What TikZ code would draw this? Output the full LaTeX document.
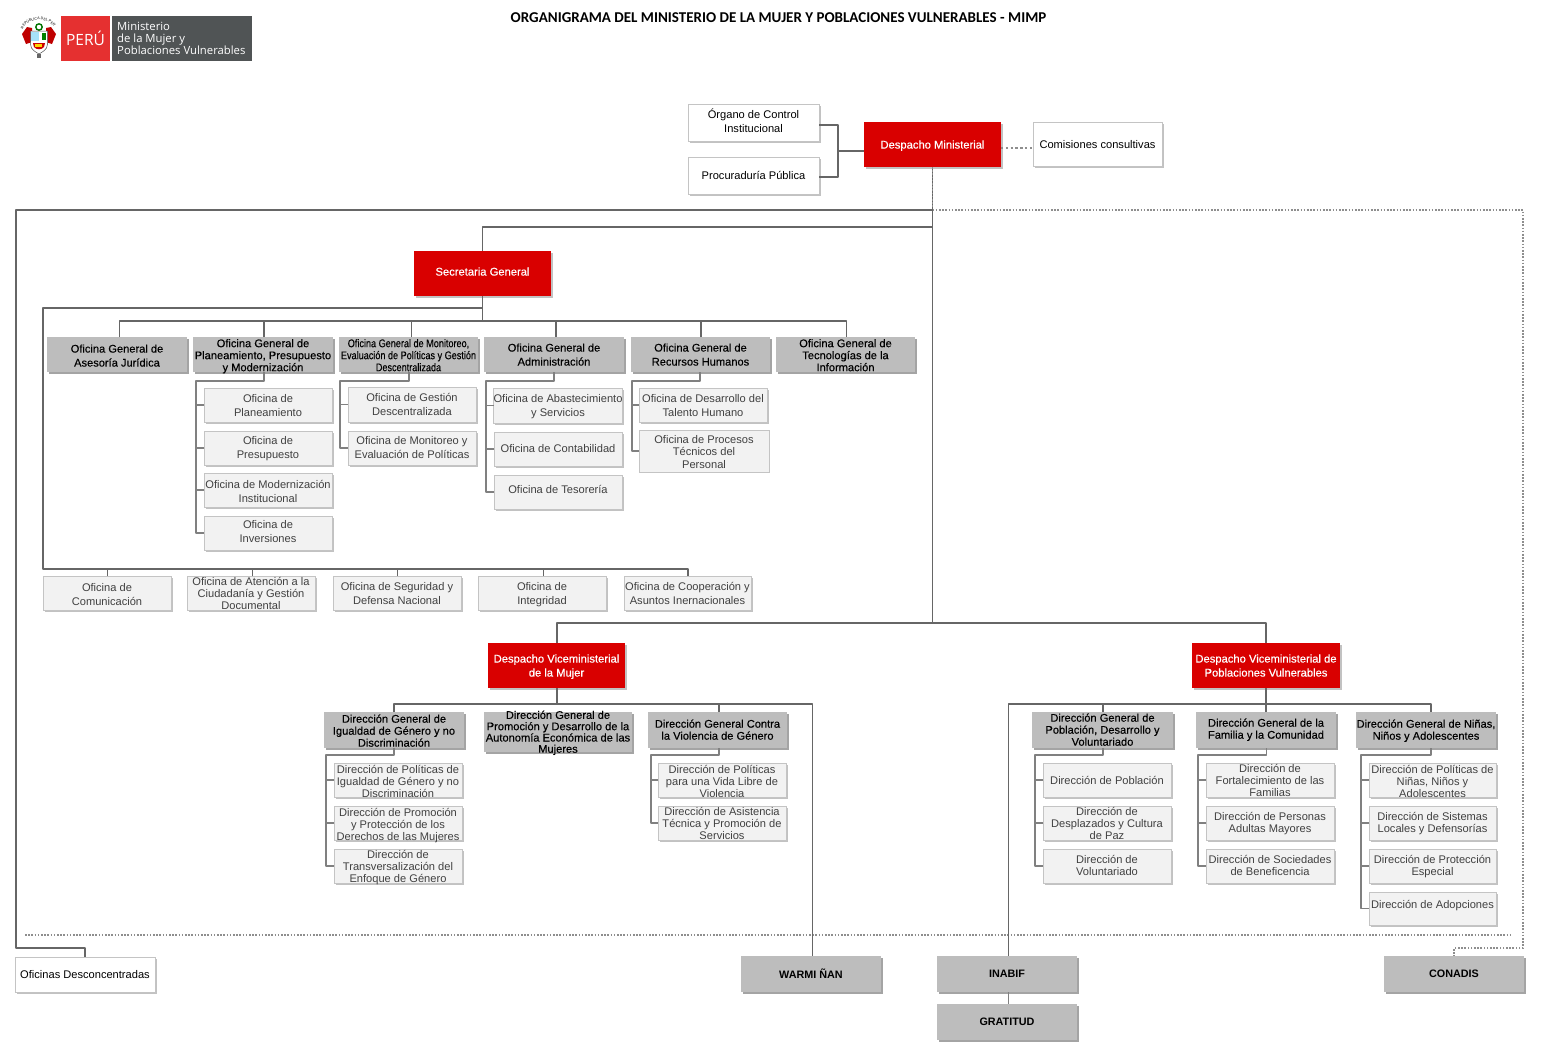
\documentclass[tikz,border=0pt]{standalone}
\usepackage{fontspec}
\setmainfont{Liberation Sans}
\newfontfamily\hvf[FakeBold=0.25]{Liberation Sans}
\newfontfamily\redf[FakeBold=0.55]{Liberation Sans}
\newfontfamily\narrowf[FakeStretch=0.82,FakeBold=0.15]{Liberation Sans}
\newfontfamily\logof{Open Sans}
\newfontfamily\titlef{Carlito}
\usetikzlibrary{shadows,decorations.text}
\definecolor{redbox}{HTML}{D90000}
\definecolor{heavybox}{HTML}{BDBDBD}
\definecolor{heavyshadow}{HTML}{A4A4A4}
\definecolor{lightbox}{HTML}{F2F2F2}
\definecolor{edgegray}{HTML}{C4C4C4}
\definecolor{softshadow}{HTML}{C2C2C2}
\definecolor{linegray}{HTML}{666666}
\definecolor{subline}{HTML}{808080}
\definecolor{dotgray}{HTML}{8E8E8E}
\definecolor{lighttext}{HTML}{404040}
\definecolor{logogray}{HTML}{505455}
\definecolor{logored}{HTML}{E53030}
\tikzset{
  base/.style={inner sep=0pt,outer sep=0pt,line width=0.9pt},
  redb/.style={base,fill=redbox,text=white,general shadow={fill=softshadow,shadow xshift=2pt,shadow yshift=-2pt},font=\redf\fontsize{11.2}{14}\selectfont},
  whiteb/.style={base,fill=white,draw=edgegray,text=black,general shadow={fill=softshadow,shadow xshift=2pt,shadow yshift=-2pt},font=\fontsize{11.1}{14}\selectfont},
  heavyb/.style={base,fill=heavybox,text=black,general shadow={fill=heavyshadow,shadow xshift=2pt,shadow yshift=-2pt},font=\hvf\fontsize{11.1}{#1}\selectfont},
  heavyb/.default=12,
  capsb/.style={base,fill=heavybox,text=black,general shadow={fill=heavyshadow,shadow xshift=2pt,shadow yshift=-2pt},font=\bfseries\fontsize{10.8}{12}\selectfont},
  lightb/.style={base,fill=lightbox,draw=edgegray,text=lighttext,general shadow={fill=softshadow,shadow xshift=1.5pt,shadow yshift=-1.5pt},font=\fontsize{11.1}{#1}\selectfont},
  lightb/.default=14,
  flatb/.style={base,fill=lightbox,draw=edgegray,text=lighttext,font=\fontsize{11.1}{#1}\selectfont},
  flatb/.default=12.5,
  conn/.style={draw=linegray,line width=1.3pt,line join=round},
  subconn/.style={draw=subline,line width=1.6pt,line join=round},
  dotconn/.style={draw=dotgray,line width=1.5pt,dash pattern=on 1.6pt off 1.6pt},
}
% style, name, x1, y1, x2, y2, text lift, text
\newcommand{\bx}[8]{%
  \node[#1,minimum width={(#5-#3-1)*1pt},minimum height={(#6-#4-1)*1pt},anchor=center] (#2) at ({(#3+#5)/2-.5},{(#4+#6)/2-.5})
   {\raisebox{\dimexpr#7pt-3pt\relax}[0pt][0pt]{\begin{tabular}[c]{@{}c@{}}#8\end{tabular}}};}
\begin{document}
\begin{tikzpicture}[x=1pt,y=-1pt]
\useasboundingbox (0,0) rectangle (1557,1047);
\fill[white] (0,0) rectangle (1557,1047);

% title
\node[font=\titlef\bfseries\fontsize{15}{16}\selectfont,text=black] (title) at (778.5,17.5) {ORGANIGRAMA DEL MINISTERIO DE LA MUJER Y POBLACIONES VULNERABLES - MIMP};

% logo
\fill[red!75!black] (27,27) -- (22,34) -- (26,44) -- (32,42) -- (32,28) -- cycle;
\fill[red!75!black] (51,27) -- (56,34) -- (52,44) -- (46,42) -- (46,28) -- cycle;
\draw[green!45!black,line width=1.4pt] (39,27) circle (3.2);
\filldraw[draw=black!70,fill=white,line width=0.5pt] (30.5,31) -- (47.5,31) -- (47.5,44) .. controls (47.5,50) and (42,52) .. (39,54) .. controls (36,52) and (30.5,50) .. (30.5,44) -- cycle;
\fill[cyan!35] (31,31.5) rectangle (39,41);
\fill[green!50!black] (41.5,33) rectangle (46,40);
\fill[red!80!black] (33,43) -- (45,43) -- (44,47) .. controls (42,50) and (36,50) .. (34,47) -- cycle;
\fill[yellow!75!orange] (35,43.5) rectangle (42,46.5);
\fill[black!60] (37,54) rectangle (41,58);
\path[decorate,decoration={text along path,text align=center,text={|\fontsize{3.6}{4}\selectfont|REPÚBLICA DEL PERÚ}}] (24,27) .. controls (30,17.5) and (48,17.5) .. (54,27);
\fill[logored] (61,16) rectangle (110,61);
\fill[logogray] (112,16) rectangle (252,61);
\node[font=\logof\fontsize{15.5}{16}\selectfont,text=white] (peru) at (85.5,38.5) {PERÚ};
\node[font=\logof\fontsize{11.3}{12}\selectfont,text=white,align=left,anchor=west,inner sep=0pt] (mini) at (117,40) {\begin{tabular}[c]{@{}l@{}}Ministerio\\[0pt]de la Mujer y\\[0pt]Poblaciones Vulnerables\end{tabular}};

% top
\bx{whiteb}{oci}{688}{104}{820}{142}{0}{Órgano de Control\\Institucional}
\bx{whiteb}{proc}{688}{157}{820}{195}{-1}{Procuraduría Pública}
\bx{redb}{dm}{864}{122}{1002}{168}{-1}{Despacho Ministerial}
\bx{whiteb}{com}{1033}{122}{1163}{167}{-1}{Comisiones consultivas}

\bx{redb}{sg}{414}{251}{552}{297}{1}{Secretaria General}

% general offices
\bx{heavyb=14}{oa}{47}{337}{188}{373}{-2}{Oficina General de\\Asesoría Jurídica}
\bx{heavyb}{ob}{193}{337}{334}{373}{-2}{Oficina General de\\Planeamiento, Presupuesto\\y Modernización}
\bx{heavyb}{oc}{339}{337}{479}{373}{-2}{\narrowf Oficina General de Monitoreo,\\\narrowf Evaluación de Políticas y Gestión\\\narrowf Descentralizada}
\bx{heavyb=14}{od}{484}{337}{625}{373}{-1}{Oficina General de\\Administración}
\bx{heavyb=14}{oe}{631}{337}{771}{373}{-1}{Oficina General de\\Recursos Humanos}
\bx{heavyb}{of}{776}{337}{916}{373}{-2}{Oficina General de\\Tecnologías de la\\Información}

% sub offices
\bx{lightb}{b1}{204}{388}{333}{423}{-1}{Oficina de\\Planeamiento}
\bx{lightb}{b2}{204}{431}{333}{466}{0}{Oficina de\\Presupuesto}
\bx{lightb}{b3}{204}{473}{333}{508}{-2}{Oficina de Modernización\\Institucional}
\bx{lightb}{b4}{204}{516}{333}{551}{1}{Oficina de\\Inversiones}

\bx{lightb}{c1}{348}{387}{477}{423}{-1}{Oficina de Gestión\\Descentralizada}
\bx{lightb}{c2}{348}{431}{477}{466}{0}{Oficina de Monitoreo y\\Evaluación de Políticas}

\bx{lightb}{d1}{494}{388}{623}{424}{-1}{Oficina de Abastecimiento\\y Servicios}
\bx{lightb}{d2}{494}{432}{623}{467}{0}{Oficina de Contabilidad}
\bx{lightb}{d3}{494}{475}{623}{510}{2}{Oficina de Tesorería}

\bx{lightb}{e1}{639}{388}{768}{423}{-1}{Oficina de Desarrollo del\\Talento Humano}
\bx{flatb}{e2}{639}{430}{770}{473}{-2}{Oficina de Procesos\\Técnicos del\\Personal}

% bottom row of Secretaria
\bx{lightb}{r1}{43}{576}{172}{611}{-2}{Oficina de\\Comunicación}
\bx{lightb=12}{r2}{187}{576}{316}{611}{-2}{Oficina de Atención a la\\Ciudadanía y Gestión\\Documental}
\bx{lightb}{r3}{333}{576}{462}{611}{-1}{Oficina de Seguridad y\\Defensa Nacional}
\bx{lightb}{r4}{478}{576}{607}{611}{-1}{Oficina de\\Integridad}
\bx{lightb}{r5}{624}{576}{752}{611}{-1}{Oficina de Cooperación y\\Asuntos Inernacionales}

% viceministries
\bx{redb}{vm}{488}{643}{626}{689}{-1}{Despacho Viceministerial\\de la Mujer}
\bx{redb}{vp}{1192}{643}{1341}{689}{-1}{Despacho Viceministerial de\\Poblaciones Vulnerables}

\bx{heavyb}{g1}{324}{712}{465}{749}{-2}{Dirección General de\\Igualdad de Género y no\\Discriminación}
\bx{heavyb=10.5}{g2}{484}{712}{633}{753}{-1}{Dirección General de\\Promoción y Desarrollo de la\\Autonomía Económica de las\\Mujeres}
\bx{heavyb}{g3}{648}{712}{788}{749}{-1}{Dirección General Contra\\la Violencia de Género}

\bx{lightb=12}{g11}{334}{763}{463}{798}{-3}{Dirección de Políticas de\\Igualdad de Género y no\\Discriminación}
\bx{lightb=12}{g12}{334}{806}{463}{841}{-3}{Dirección de Promoción\\y Protección de los\\Derechos de las Mujeres}
\bx{lightb=12}{g13}{334}{849}{463}{884}{-2}{Dirección de\\Transversalización del\\Enfoque de Género}
\bx{lightb=12}{g31}{658}{763}{787}{798}{-3}{Dirección de Políticas\\para una Vida Libre de\\Violencia}
\bx{lightb=12}{g32}{658}{806}{787}{841}{-2}{Dirección de Asistencia\\Técnica y Promoción de\\Servicios}

\bx{heavyb}{h1}{1032}{712}{1174}{749}{-1}{Dirección General de\\Población, Desarrollo y\\Voluntariado}
\bx{heavyb}{h2}{1196}{712}{1337}{749}{0}{Dirección General de la\\Familia y la Comunidad}
\bx{heavyb}{h3}{1356}{712}{1497}{749}{-1}{Dirección General de Niñas,\\Niños y Adolescentes}

\bx{lightb=12}{h11}{1043}{763}{1172}{798}{-2}{Dirección de Población}
\bx{lightb=12}{h12}{1043}{806}{1172}{841}{-2}{Dirección de\\Desplazados y Cultura\\de Paz}
\bx{lightb=12}{h13}{1043}{849}{1172}{884}{-1}{Dirección de\\Voluntariado}
\bx{lightb=12}{h21}{1206}{763}{1335}{798}{-2}{Dirección de\\Fortalecimiento de las\\Familias}
\bx{lightb=12}{h22}{1206}{806}{1335}{841}{-1}{Dirección de Personas\\Adultas Mayores}
\bx{lightb=12}{h23}{1206}{849}{1335}{884}{-1}{Dirección de Sociedades\\de Beneficencia}
\bx{lightb=12}{h31}{1369}{763}{1497}{798}{-3}{Dirección de Políticas de\\Niñas, Niños y\\Adolescentes}
\bx{lightb=12}{h32}{1369}{806}{1497}{841}{-1}{Dirección de Sistemas\\Locales y Defensorías}
\bx{lightb=12}{h33}{1369}{849}{1497}{884}{-1}{Dirección de Protección\\Especial}
\bx{lightb=12}{h34}{1369}{892}{1497}{926}{3}{Dirección de Adopciones}

% outer bodies
\bx{whiteb}{des}{15}{957}{156}{993}{-1}{Oficinas Desconcentradas}
\bx{capsb}{war}{741}{956}{882}{993}{-1}{WARMI ÑAN}
\bx{capsb}{ina}{937}{956}{1078}{993}{-1}{INABIF}
\bx{capsb}{gra}{937}{1004}{1078}{1041}{-1}{GRATITUD}
\bx{capsb}{con}{1384}{956}{1525}{993}{-1}{CONADIS}

% connectors -- top
\coordinate (t1) at (838,151);
\draw[conn] (oci.east |- 0,125) -| (t1);
\draw[conn] (proc.east |- 0,177) -| (t1);
\draw[conn] (t1) -- (dm.west |- t1);
\draw[dotconn,dash pattern=on 2.4pt off 2.4pt] (dm.east |- 0,148) -- (com.west |- 0,148);

% main trunk
\coordinate (vbus) at (932.5,623);
\coordinate (jbig) at (932.5,210);
\coordinate (jsg) at (932.5,227);
\draw[conn] (dm.south) -- (vbus);
\draw[dotconn,draw=white!55!black] (dm.south) -- (jbig);
\draw[conn] (jbig) -- (16,210) -- (16,948) -| (des.north);
\draw[conn] (jsg) -| (sg.north);

% dotted adscription lines
\draw[dotconn] (jbig) -- (1523,210) -- (1523,948) -| (con.north);
\coordinate (dl) at (25,935);
\coordinate (dr) at (1512,935);
\draw[dotconn] (dl) -- (dr);

% secretaria buses
\coordinate (sgbus) at (482.5,308);
\coordinate (sgbus2) at (482.5,321);
\draw[conn] (sg.south) -- (sgbus2);
\draw[conn] ([xshift=2.5pt]oa.north) |- (sgbus2);
\draw[conn] (sgbus2) -| ([xshift=1pt]of.north);
\foreach \n/\s in {ob/1,oc/3,od/2,oe/0.5}{\draw[conn] ([xshift=\s pt]\n.north) -- ([xshift=\s pt]\n.north |- sgbus2);}
\coordinate (lowbus) at (43,569);
\draw[conn] (sgbus) -- (43,308) -- (lowbus) -| ([xshift=.5pt]r5.north);
\foreach \n/\s in {r1/0,r2/1,r3/0,r4/1}{\draw[conn,line width=1pt] ([xshift=\s pt]\n.north) -- ([xshift=\s pt]\n.north |- lowbus);}

% sub-office spines
\coordinate (sb) at (196,381);
\draw[subconn] ([xshift=1pt]ob.south) |- (sb) |- (b4.west);
\foreach \n in {b1,b2,b3}{\draw[subconn] (\n.west) -- (\n.west -| sb);}
\coordinate (sc) at (340,381);
\draw[subconn] ([xshift=.5pt]oc.south) |- (sc) |- (c2.west);
\draw[subconn] (c1.west) -- (c1.west -| sc);
\coordinate (sd) at (486,381);
\draw[subconn] ([xshift=0pt]od.south) |- (sd) |- (d3.west);
\foreach \n in {d1,d2}{\draw[subconn] (\n.west) -- (\n.west -| sd);}
\coordinate (se) at (632,381);
\draw[subconn] ([xshift=-.5pt]oe.south) |- (se) |- (e2.west);
\draw[subconn] (e1.west) -- (e1.west -| se);

% viceministry bus
\draw[conn] ([xshift=.5pt]vm.north) |- (vbus) -| (vp.north);
\coordinate (mbus) at (557,704);
\draw[conn] ([xshift=.5pt]vm.south) -- (mbus);
\draw[conn] (g1.north) |- (mbus);
\draw[conn] (mbus) -| ([xshift=1.5pt]war.north);
\draw[conn] ([xshift=1.5pt]g3.north) -- ([xshift=1.5pt]g3.north |- mbus);
\coordinate (pbus) at (1266,704);
\draw[conn] (vp.south) -- (pbus);
\draw[conn] ([xshift=1.5pt]ina.north) |- (pbus);
\draw[conn] (pbus) -| ([xshift=5pt]h3.north);
\draw[conn] (h2.north -| pbus) -- (pbus);
\draw[conn] ([xshift=.5pt]h1.north) -- ([xshift=.5pt]h1.north |- pbus);

\coordinate (sg1) at (326,755);
\draw[subconn] (g1.south) |- (sg1) |- (g13.west);
\foreach \n in {g11,g12}{\draw[subconn] (\n.west) -- (\n.west -| sg1);}
\coordinate (sg3) at (651,755);
\draw[subconn] ([xshift=1.5pt]g3.south) |- (sg3) |- (g32.west);
\draw[subconn] (g31.west) -- (g31.west -| sg3);
\coordinate (sh1) at (1035,755);
\draw[subconn] ([xshift=.5pt]h1.south) |- (sh1) |- (h13.west);
\foreach \n in {h11,h12}{\draw[subconn] (\n.west) -- (\n.west -| sh1);}
\coordinate (sh2) at (1198,755);
\draw[subconn] ([xshift=.5pt]h2.south) |- (sh2) |- (h23.west);
\foreach \n in {h21,h22}{\draw[subconn] (\n.west) -- (\n.west -| sh2);}
\coordinate (sh3) at (1361,755);
\draw[subconn] ([xshift=5pt]h3.south) |- (sh3) |- (h34.west);
\foreach \n in {h31,h32,h33}{\draw[subconn] (\n.west) -- (\n.west -| sh3);}

\draw[conn,draw=subline] ([xshift=1.5pt]ina.south) -- ([xshift=1.5pt]gra.north);
\end{tikzpicture}
\end{document}
